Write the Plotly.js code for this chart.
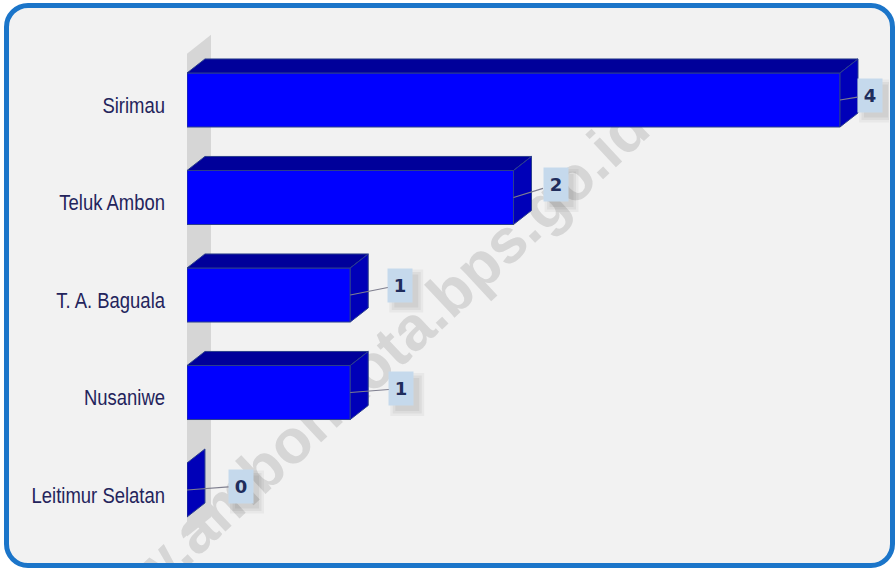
<!DOCTYPE html>
<html>
<head>
<meta charset="utf-8">
<script src="https://cdn.plot.ly/plotly-3.0.1.min.js"></script>
<style>
  html, body { margin:0; padding:0; background:#ffffff; width:896px; height:569px; overflow:hidden; }
  #frame { position:absolute; left:4px; top:3px; width:891px; height:565px; box-sizing:border-box;
           border:5px solid #1b75c9; border-radius:24px; background:#f2f2f2; overflow:hidden; }
  #wm { position:absolute; left:343px; top:376px; transform:translate(-50%,-50%) rotate(-43deg);
        font:bold 62px 'Liberation Sans', Arial, sans-serif; color:#d6d6d6; white-space:nowrap; }
  #chart { position:absolute; left:0; top:0; width:896px; height:569px; }
</style>
</head>
<body>
<div id="frame"><div id="wm">www.ambonkota.bps.go.id</div></div>
<div id="chart"></div>
<script>
// ---- data ----
const categories = ['Sirimau', 'Teluk Ambon', 'T. A. Baguala', 'Nusaniwe', 'Leitimur Selatan'];
const values = [4, 2, 1, 1, 0];
const valueLabels = ['4', '2', '1', '1', '0'];

// ---- style / layout constants ----
const BW = 0.554;   // bar thickness (category units)
const DX = 0.11;    // 3D depth in x units
const DY = 0.144;   // 3D depth in category units
const labelAx = [30, 42, 50, 51, 54];
const labelAy = [-5, -13, -10, -4, -4];
const BOXW = 24, BOXH = 33;

const idx = categories.map((c, i) => i);

const shapes = [];
// back wall
const wx0 = -0.025, wx1 = -0.025 + 0.172;
shapes.push({
  type: 'path', xref: 'x', yref: 'y', layer: 'below',
  path: `M ${wx0},-0.44 L ${wx1},-0.67 L ${wx1},4.28 L ${wx0},4.51 Z`,
  fillcolor: '#d6d6d6', line: { width: 0 }
});
values.forEach((v, i) => {
  const yt = i - BW / 2, yb = i + BW / 2;
  if (v > 0) {
    shapes.push({
      type: 'path', xref: 'x', yref: 'y',
      path: `M 0,${yt} L ${v},${yt} L ${v + DX},${yt - DY} L ${DX},${yt - DY} Z`,
      fillcolor: '#00009a', line: { color: '#2b3f8c', width: 1 }
    });
  }
  shapes.push({
    type: 'path', xref: 'x', yref: 'y',
    path: `M ${v},${yt} L ${v + DX},${yt - DY} L ${v + DX},${yb - DY} L ${v},${yb} Z`,
    fillcolor: '#0000b8', line: { color: '#2b3f8c', width: 1 }
  });
});
// soft shadows under the value boxes
values.forEach((v, i) => {
  [[10, 0.04], [5, 0.05], [0, 0.05]].forEach(([g, a]) => {
    const cx = labelAx[i] + 6, cy = -labelAy[i] - 6;
    shapes.push({
      type: 'rect', xref: 'x', yref: 'y', xsizemode: 'pixel', ysizemode: 'pixel',
      xanchor: v, yanchor: i,
      x0: cx - BOXW / 2 - g / 2, x1: cx + BOXW / 2 + g / 2,
      y0: cy - BOXH / 2 - g / 2, y1: cy + BOXH / 2 + g / 2,
      fillcolor: `rgba(0,0,0,${a})`, line: { width: 0 }
    });
  });
});

const annotations = [];
values.forEach((v, i) => {
  annotations.push({
    x: v, y: i, xref: 'x', yref: 'y', showarrow: true, arrowhead: 0, arrowwidth: 1.2,
    arrowcolor: '#7f7f8f', ax: labelAx[i], ay: labelAy[i], standoff: 0,
    text: '<b>' + valueLabels[i] + '</b>', width: BOXW - 2, height: BOXH - 2, borderpad: 1,
    bgcolor: '#c5d9ec', font: { color: '#1f2d5c', size: 18, family: 'DejaVu Sans' }
  });
});

const trace = {
  type: 'bar', orientation: 'h',
  x: values, y: idx, width: BW,
  marker: { color: '#0000ff', line: { color: '#2b3f8c', width: 1 } },
  hoverinfo: 'skip', cliponaxis: false
};

const layout = {
  width: 896, height: 569,
  margin: { l: 187, r: 7, t: 30, b: 24 },
  paper_bgcolor: 'rgba(0,0,0,0)', plot_bgcolor: 'rgba(0,0,0,0)',
  showlegend: false,
  xaxis: { range: [0, 4.3], showgrid: false, zeroline: false, showticklabels: false, showline: false, fixedrange: true },
  yaxis: {
    range: [4.564, -0.718], tickmode: 'array', tickvals: idx, ticktext: categories,
    showgrid: false, zeroline: false, showline: false, ticks: '',
    ticklabelstandoff: 21, ticklabelshift: -5,
    tickfont: { family: "'Liberation Sans', Arial, sans-serif", size: 22, color: '#24245c' }
  },
  shapes: shapes,
  annotations: annotations,
  bargap: 0
};

Plotly.newPlot('chart', [trace], layout, { displayModeBar: false, staticPlot: true }).then(() => {
  // narrow (condensed) look of the category labels, like the original
  document.querySelectorAll('#chart .ytick text').forEach(t => {
    const x = parseFloat(t.getAttribute('x')) || 0;
    const tr = t.getAttribute('transform') || '';
    t.setAttribute('transform', `${tr} translate(${x},0) scale(0.84,1) translate(${-x},0)`);
  });
});
</script>
</body>
</html>
